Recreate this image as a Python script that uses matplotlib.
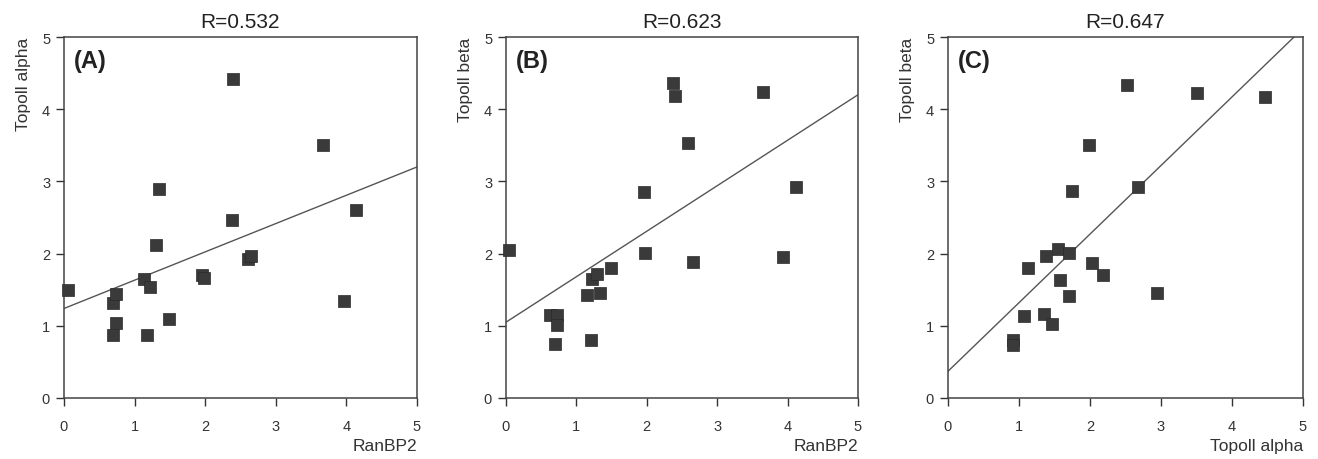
import matplotlib
matplotlib.use("Agg")
import matplotlib.pyplot as plt
import numpy as np

plt.rcParams['font.family'] = ['Liberation Sans', 'DejaVu Sans']

# ---- data ----
titles = ["R=0.532", "R=0.623", "R=0.647"]
panel_letters = ["(A)", "(B)", "(C)"]
x_labels = ["RanBP2", "RanBP2", "Topoll alpha"]
y_labels = ["Topoll alpha", "Topoll beta", "Topoll beta"]
tick_values = [0, 1, 2, 3, 4, 5]

a_x = [0.05, 0.69, 0.73, 0.73, 0.69, 1.13, 1.22, 1.18, 1.30, 1.34,
       1.49, 1.96, 1.98, 2.38, 2.39, 2.60, 2.65, 3.67, 3.96, 4.14]
a_y = [1.50, 1.31, 1.44, 1.04, 0.87, 1.65, 1.54, 0.87, 2.12, 2.90,
       1.09, 1.71, 1.66, 2.47, 4.42, 1.93, 1.96, 3.50, 1.35, 2.61]

b_x = [0.04, 0.63, 0.72, 0.72, 0.69, 1.15, 1.21, 1.22, 1.29, 1.33,
       1.49, 1.96, 1.98, 2.37, 2.40, 2.58, 2.66, 3.65, 3.94, 4.12]
b_y = [2.05, 1.15, 1.15, 1.01, 0.75, 1.42, 0.80, 1.65, 1.72, 1.46,
       1.80, 2.86, 2.01, 4.36, 4.18, 3.53, 1.89, 4.24, 1.95, 2.92]

c_x = [0.91, 0.91, 1.07, 1.12, 1.35, 1.38, 1.47, 1.55, 1.58, 1.70,
       1.70, 1.75, 1.98, 2.03, 2.18, 2.52, 2.67, 2.95, 3.51, 4.46]
c_y = [0.81, 0.73, 1.13, 1.80, 1.17, 1.96, 1.02, 2.07, 1.64, 2.01,
       1.41, 2.87, 3.51, 1.87, 1.71, 4.34, 2.92, 1.45, 4.23, 4.17]

fit_intercepts = [1.24, 1.05, 0.37]
fit_slopes = [0.392, 0.63, 0.95]

panels_x = [a_x, b_x, c_x]
panels_y = [a_y, b_y, c_y]

# ---- figure ----
fig = plt.figure(figsize=(13.18, 4.6), dpi=100)
W, H = 1318.0, 460.0
boxes = [(64, 417), (506, 858), (948, 1303)]
top_px, bot_px = 38, 399

ink = "#333333"
for i in range(3):
    l, r = boxes[i]
    ax = fig.add_axes([l / W, (H - bot_px) / H, (r - l) / W, (bot_px - top_px) / H])
    ax.set_xlim(0, 5)
    ax.set_ylim(0, 5)
    ax.set_xticks(tick_values)
    ax.set_yticks(tick_values)
    ax.tick_params(direction='out', length=6, width=1.0, color=ink,
                   labelcolor=ink, labelsize=10.5)
    ax.tick_params(axis='x', pad=9)
    ax.tick_params(axis='y', pad=4)
    for s in ax.spines.values():
        s.set_color("#444444")
        s.set_linewidth(1.1)

    xs = np.array([0.0, 5.0])
    ys = fit_intercepts[i] + fit_slopes[i] * xs
    ax.plot(xs, ys, color="#555555", lw=1.0, clip_on=True, zorder=2)

    ax.scatter(panels_x[i], panels_y[i], marker='s', s=80, color="#3a3a3a",
               edgecolors="#2a2a2a", linewidths=0.5, zorder=3, clip_on=False)

    ax.set_title(titles[i], fontsize=15, color="#222222", pad=7)
    ax.text(0.028, 0.935, panel_letters[i], transform=ax.transAxes,
            fontsize=17, fontweight='bold', color="#222222",
            ha='left', va='center')
    ax.set_xlabel(x_labels[i], loc='right', fontsize=12.5, color=ink, labelpad=4)
    ax.set_ylabel(y_labels[i], loc='top', fontsize=12.5, color=ink, labelpad=8)

fig.savefig("out.png", dpi=100, facecolor="white")
